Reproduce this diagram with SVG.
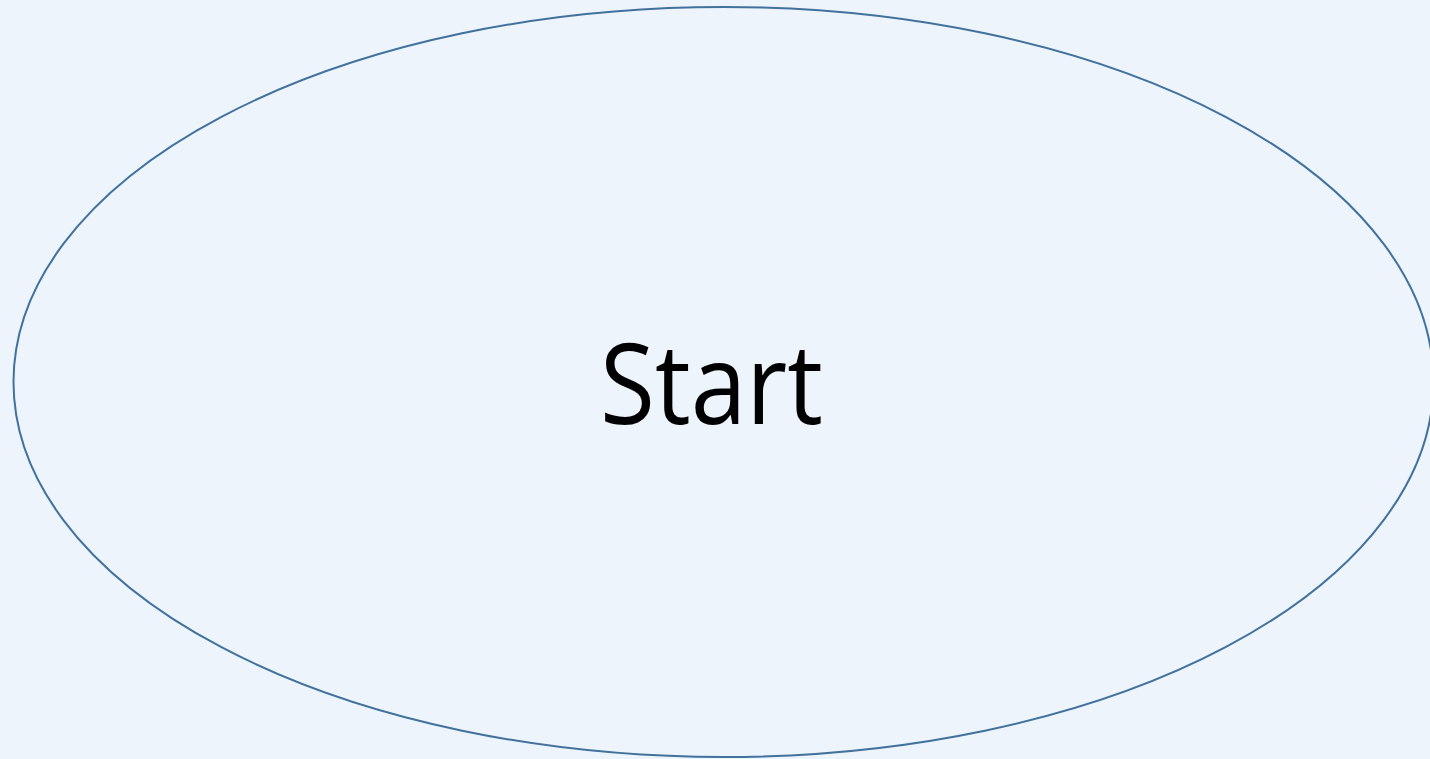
<svg xmlns="http://www.w3.org/2000/svg" width="1430" height="759" viewBox="0 0 1430 759">
<style>
.node-shape{fill:#EDF4FB;stroke:#41719C;stroke-width:2}
.node-label{font-family:"Open Sans","Liberation Sans",sans-serif;font-size:111px;fill:#000000;text-anchor:middle}
</style>
<rect x="0" y="0" width="1430" height="759" fill="#EDF4FB"/>
<g id="connectors"></g>
<g id="start">
<ellipse class="node-shape" cx="723.5" cy="382" rx="710" ry="375"/>
<text class="node-label" x="711.5" y="424" textLength="223" lengthAdjust="spacingAndGlyphs">Start</text>
</g>
</svg>
